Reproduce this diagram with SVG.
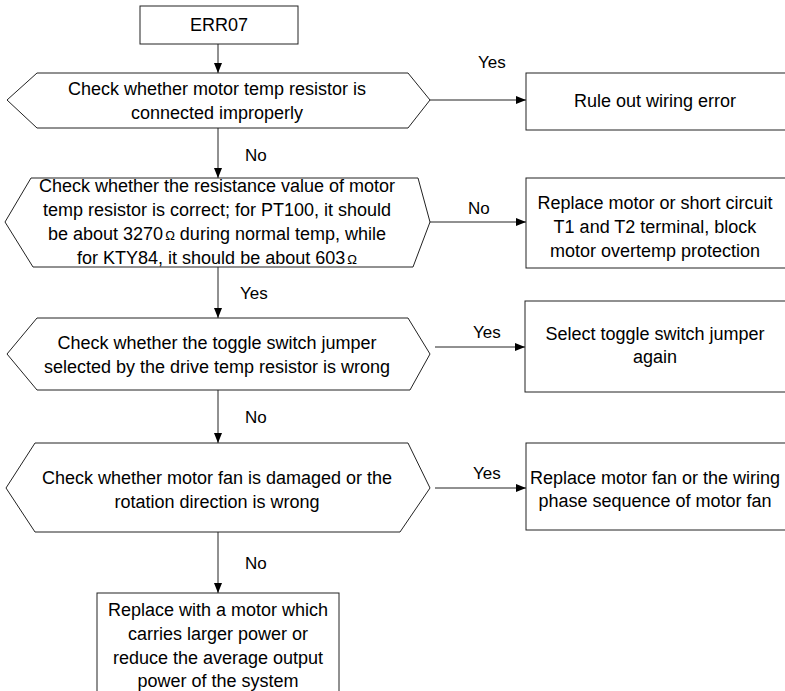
<svg xmlns="http://www.w3.org/2000/svg" width="785" height="691" viewBox="0 0 785 691">
<style>
.shape{fill:#fff;stroke:#222;stroke-width:1}
.t{font-family:"Liberation Sans",Arial,sans-serif;font-size:18px;fill:#000;text-anchor:middle}
.lbl{font-family:"Liberation Sans",Arial,sans-serif;font-size:17px;fill:#000}
.om{font-size:13px}
.conn line{stroke:#222;stroke-width:1}
</style>
<defs>
<marker id="arr" viewBox="0 0 10 10" refX="10" refY="5" markerWidth="10" markerHeight="10" markerUnits="userSpaceOnUse" orient="auto">
<path d="M0,1 L10,5 L0,9 Z" fill="#000"/>
</marker>
</defs>
<rect width="785" height="691" fill="#fff"/>
<g id="connectors" class="conn">
<line x1="218" y1="44" x2="218" y2="73" marker-end="url(#arr)"/>
<line x1="430" y1="100" x2="526" y2="100" marker-end="url(#arr)"/>
<line x1="218" y1="128" x2="218" y2="178" marker-end="url(#arr)"/>
<line x1="430" y1="222" x2="526" y2="222" marker-end="url(#arr)"/>
<line x1="218" y1="267" x2="218" y2="318" marker-end="url(#arr)"/>
<line x1="435" y1="347" x2="525" y2="347" marker-end="url(#arr)"/>
<line x1="218" y1="390" x2="218" y2="443" marker-end="url(#arr)"/>
<line x1="435" y1="488" x2="526" y2="488" marker-end="url(#arr)"/>
<line x1="218" y1="532" x2="218" y2="593" marker-end="url(#arr)"/>
<text class="lbl" x="478" y="68">Yes</text>
<text class="lbl" x="245" y="161">No</text>
<text class="lbl" x="468" y="214">No</text>
<text class="lbl" x="240" y="299">Yes</text>
<text class="lbl" x="473" y="338">Yes</text>
<text class="lbl" x="245" y="423">No</text>
<text class="lbl" x="473" y="479">Yes</text>
<text class="lbl" x="245" y="569">No</text>
</g>
<g id="start">
<rect class="shape" x="140" y="6" width="158" height="38"/>
<text class="t" x="219" y="31">ERR07</text>
</g>
<g id="check1">
<polygon class="shape" points="37,73 408,73 430,100 408,128 37,128 7,100"/>
<text class="t" x="217" y="95">Check whether motor temp resistor is</text>
<text class="t" x="217" y="119">connected improperly</text>
</g>
<g id="result1">
<rect class="shape" x="526" y="73" width="262" height="57"/>
<text class="t" x="655" y="107">Rule out wiring error</text>
</g>
<g id="check2">
<polygon class="shape" points="31,178 418,178 430,222 413,267 33,267 5,222"/>
<text class="t" x="217" y="192">Check whether the resistance value of motor</text>
<text class="t" x="217" y="216">temp resistor is correct; for PT100, it should</text>
<text class="t" x="217" y="240">be about 3270<tspan class="om" dx="2">Ω</tspan>  during normal temp, while</text>
<text class="t" x="217" y="264">for KTY84, it should be about 603<tspan class="om" dx="2">Ω</tspan></text>
</g>
<g id="result2">
<rect class="shape" x="526" y="178" width="262" height="90"/>
<text class="t" x="655" y="209">Replace motor or short circuit</text>
<text class="t" x="655" y="233">T1 and T2 terminal, block</text>
<text class="t" x="655" y="257">motor overtemp protection</text>
</g>
<g id="check3">
<polygon class="shape" points="37,318 408,318 430,354 410,390 37,390 7,354"/>
<text class="t" x="217" y="349">Check whether the toggle switch jumper</text>
<text class="t" x="217" y="373">selected by the drive temp resistor is wrong</text>
</g>
<g id="result3">
<rect class="shape" x="525" y="301" width="263" height="91"/>
<text class="t" x="655" y="340">Select toggle switch jumper</text>
<text class="t" x="655" y="363">again</text>
</g>
<g id="check4">
<polygon class="shape" points="35,443 408,443 430,488 400,532 35,532 6,488"/>
<text class="t" x="217" y="484">Check whether motor fan is damaged or the</text>
<text class="t" x="217" y="508">rotation direction is wrong</text>
</g>
<g id="result4">
<rect class="shape" x="526" y="443" width="262" height="87"/>
<text class="t" x="655" y="484">Replace motor fan or the wiring</text>
<text class="t" x="655" y="507">phase sequence of motor fan</text>
</g>
<g id="final">
<rect class="shape" x="97" y="593" width="242" height="110"/>
<text class="t" x="218" y="616">Replace with a motor which</text>
<text class="t" x="218" y="640">carries larger power or</text>
<text class="t" x="218" y="664">reduce the average output</text>
<text class="t" x="218" y="687">power of the system</text>
</g>
</svg>
